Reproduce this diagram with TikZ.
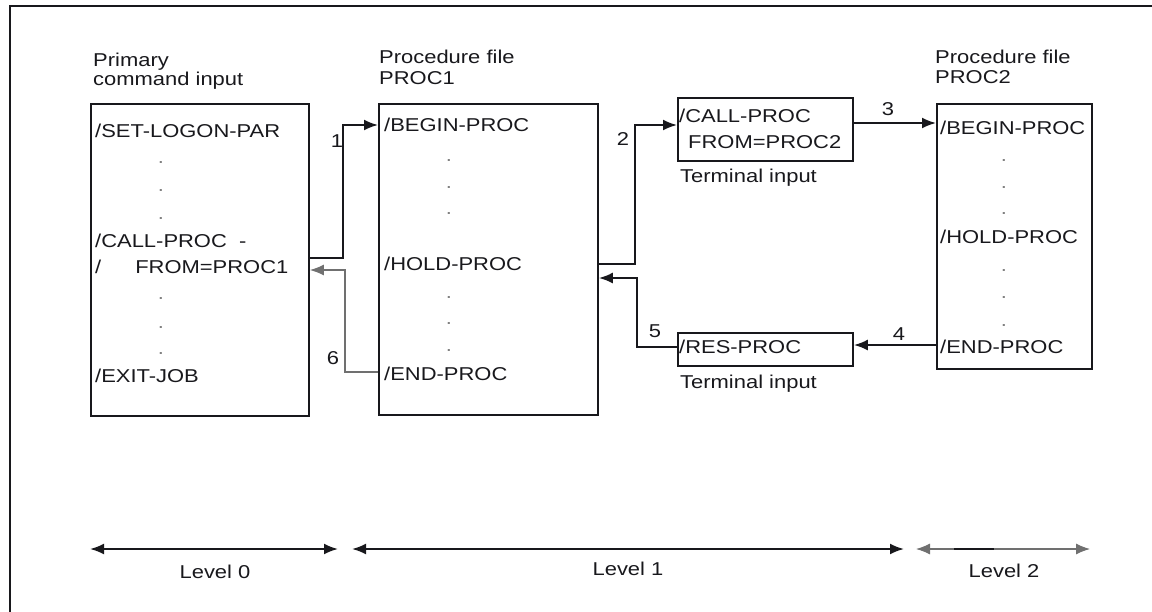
\documentclass[tikz,border=0pt]{standalone}
\usepackage{fontspec}
\setmainfont{Liberation Sans}[FakeStretch=1.18]
\usetikzlibrary{arrows.meta,calc}
\newcommand\dfont{\fontsize{18.6}{20}\selectfont}
\definecolor{ink}{HTML}{18181C}
\definecolor{lightline}{HTML}{707070}
\begin{document}
\begin{tikzpicture}[x=1pt,y=-1pt,
  box/.style={draw=ink, line width=1.9pt, inner sep=0pt, anchor=north west},
  txt/.style={anchor=base west, inner sep=0pt, font=\dfont, text=ink},
  num/.style={anchor=base, inner sep=0pt, font=\dfont, text=ink},
  dotm/.style={anchor=base, inner sep=0pt, font=\dfont, text=gray},
  conn/.style={draw=ink, line width=1.9pt, -{Latex[length=14pt,width=11pt]}},
  connlight/.style={draw=lightline, line width=1.2pt, -{Latex[length=14pt,width=11pt]}},
  lvl/.style={draw=ink, line width=2pt, {Latex[length=14pt,width=11pt]}-{Latex[length=14pt,width=11pt]}},
  lvllight/.style={draw=lightline, line width=1.1pt, {Latex[length=14pt,width=11pt]}-{Latex[length=14pt,width=11pt]}}
]
\useasboundingbox (0,0) rectangle (1152,611);
% outer frame (only left and top edges visible)
\draw[ink, line width=1.8pt] (10,620) -- (10,6) -- (1160,6);

% boxes
\node[box, minimum width=218pt, minimum height=312pt] (A) at (90,103) {};
\node[box, minimum width=219pt, minimum height=311pt] (B) at (378,103) {};
\node[box, minimum width=175pt, minimum height=63pt] (C) at (677,97) {};
\node[box, minimum width=175pt, minimum height=33pt] (D) at (677,332) {};
\node[box, minimum width=155pt, minimum height=265pt] (E) at (936,103) {};

% headers
\node[txt] (hA1) at (93,66) {Primary};
\node[txt] (hA2) at (93,85) {command input};
\node[txt] (hB1) at (379,63) {Procedure file};
\node[txt] (hB2) at (379,84) {PROC1};
\node[txt] (hE1) at (935,63) {Procedure file};
\node[txt] (hE2) at (935,83) {PROC2};

% box A text
\node[txt] (a1) at (95,137) {/SET-LOGON-PAR};
\node[dotm] (ad1) at (161,163) {.};
\node[dotm] (ad2) at (161,191) {.};
\node[dotm] (ad3) at (161,219) {.};
\node[txt] (a2) at (95,247) {/CALL-PROC\ \ -};
\node[txt] (a3) at (95,273) {/\hspace{34pt}FROM=PROC1};
\node[dotm] (ad4) at (161,299) {.};
\node[dotm] (ad5) at (161,328) {.};
\node[dotm] (ad6) at (161,354) {.};
\node[txt] (a4) at (95,382) {/EXIT-JOB};

% box B text
\node[txt] (b1) at (384,131) {/BEGIN-PROC};
\node[dotm] (bd1) at (449,161) {.};
\node[dotm] (bd2) at (449,188) {.};
\node[dotm] (bd3) at (449,214) {.};
\node[txt] (b2) at (384,270) {/HOLD-PROC};
\node[dotm] (bd4) at (449,298) {.};
\node[dotm] (bd5) at (449,324) {.};
\node[dotm] (bd6) at (449,351) {.};
\node[txt] (b3) at (384,380) {/END-PROC};

% box C and D text
\node[txt] (c1) at (679,122) {/CALL-PROC};
\node[txt] (c2) at (688,148) {FROM=PROC2};
\node[txt] (ct) at (680,182) {Terminal input};
\node[txt] (d1) at (679,353) {/RES-PROC};
\node[txt] (dt) at (680,388) {Terminal input};

% box E text
\node[txt] (e1) at (940,134) {/BEGIN-PROC};
\node[dotm] (ed1) at (1004,161) {.};
\node[dotm] (ed2) at (1004,188) {.};
\node[dotm] (ed3) at (1004,214) {.};
\node[txt] (e2) at (940,243) {/HOLD-PROC};
\node[dotm] (ed4) at (1004,271) {.};
\node[dotm] (ed5) at (1004,298) {.};
\node[dotm] (ed6) at (1004,326) {.};
\node[txt] (e3) at (940,353) {/END-PROC};

% connectors
\draw[conn] ($(A.north east)+(0,155)$) -| ($(B.north west)+(-35,22)$) -- ($(B.north west)+(0,22)$);
\draw[connlight] ($(B.north west)+(0,269)$) -| ($(A.north east)+(35,167)$) -- ($(A.north east)+(0,167)$);
\draw[conn] ($(B.north east)+(0,161)$) -| ($(C.north west)+(-42,28)$) -- ($(C.north west)+(0,28)$);
\draw[conn] ($(D.north west)+(0,15)$) -| ($(B.north east)+(38,175)$) -- ($(B.north east)+(0,175)$);
\draw[conn] ($(C.north east)+(0,26)$) -- ($(E.north west)+(0,20)$);
\draw[conn] ($(E.north west)+(0,242)$) -- ($(D.north east)+(0,13)$);

% connector numbers
\node[num] (n1) at (337,147) {1};
\node[num] (n6) at (333,364) {6};
\node[num] (n2) at (623,145) {2};
\node[num] (n5) at (655,337) {5};
\node[num] (n3) at (888,115) {3};
\node[num] (n4) at (899,340) {4};

% levels
\coordinate (l0a) at (90,549);  \coordinate (l0b) at (338,549);
\coordinate (l1a) at (352,549); \coordinate (l1b) at (904,549);
\coordinate (l2a) at (916,549); \coordinate (l2b) at (1090,549);
\coordinate (l2s) at (954,549); \coordinate (l2t) at (994,549);
\draw[lvl] (l0a) -- (l0b);
\draw[lvl] (l1a) -- (l1b);
\draw[lvllight] (l2a) -- (l2b);
\draw[ink, line width=1.8pt] (l2s) -- (l2t);
\node[num] (L0) at (215,578) {Level 0};
\node[num] (L1) at (628,575) {Level 1};
\node[num] (L2) at (1004,577) {Level 2};
\end{tikzpicture}
\end{document}
